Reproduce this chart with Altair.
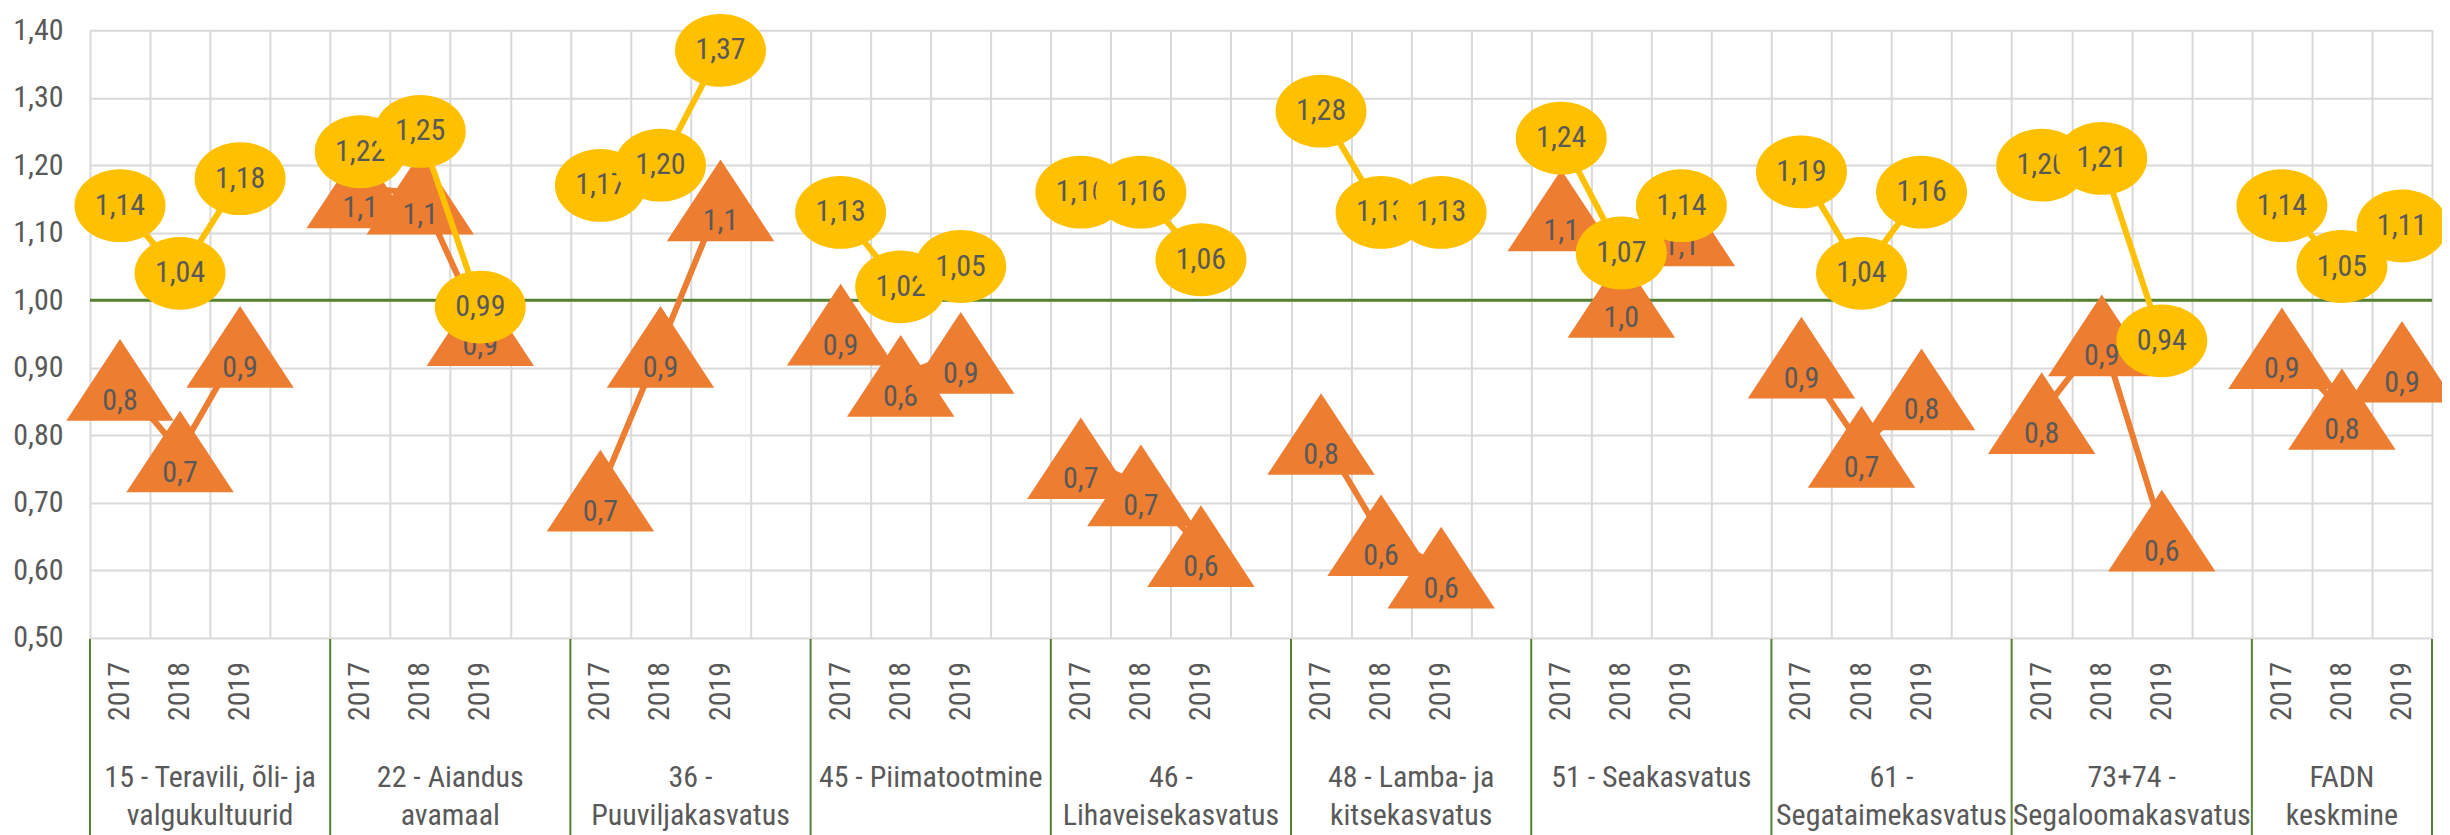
import altair as alt
import pandas as pd

# ---- data ----
groups = [
    "15 - Teravili, õli- ja\nvalgukultuurid",
    "22 - Aiandus\navamaal",
    "36 -\nPuuviljakasvatus",
    "45 - Piimatootmine",
    "46 -\nLihaveisekasvatus",
    "48 - Lamba- ja\nkitsekasvatus",
    "51 - Seakasvatus",
    "61 -\nSegataimekasvatus",
    "73+74 -\nSegaloomakasvatus",
    "FADN\nkeskmine",
]
years = ["2017", "2018", "2019"]

# orange triangles (series 1)
series_orange = [
    0.882, 0.776, 0.931,
    1.167, 1.158, 0.963,
    0.718, 0.931, 1.148,
    0.964, 0.888, 0.922,
    0.766, 0.726, 0.636,
    0.802, 0.652, 0.604,
    1.133, 1.005, 1.111,
    0.915, 0.783, 0.868,
    0.833, 0.948, 0.659,
    0.929, 0.839, 0.909,
]
# yellow ellipses (series 2)
series_yellow = [
    1.14, 1.04, 1.18,
    1.22, 1.25, 0.99,
    1.17, 1.20, 1.37,
    1.13, 1.02, 1.05,
    1.16, 1.16, 1.06,
    1.28, 1.13, 1.13,
    1.24, 1.07, 1.14,
    1.19, 1.04, 1.16,
    1.20, 1.21, 0.94,
    1.14, 1.05, 1.11,
]
reference_level = [1.0]
y_ticks = [0.5, 0.6, 0.7, 0.8, 0.9, 1.0, 1.1, 1.2, 1.3, 1.4]

# ---- tables ----
slots_per_group = len(years) + 1          # one empty slot after each group
n_slots = slots_per_group * (len(groups) - 1) + len(years)

rows = []
for g, name in enumerate(groups):
    for k, yr in enumerate(years):
        i = g * len(years) + k
        rows.append({
            "group": g,
            "year": yr,
            "pos": g * slots_per_group + k + 0.5,
            "orange": series_orange[i],
            "yellow": series_yellow[i],
        })
df = pd.DataFrame(rows)

grp_rows = []
for g, name in enumerate(groups):
    start = g * slots_per_group
    end = min(start + slots_per_group, n_slots)
    grp_rows.append({"name": name, "start": start, "end": end, "mid": (start + end) / 2})
gdf = pd.DataFrame(grp_rows)
sep_df = pd.DataFrame({"x": list(gdf["start"]) + [n_slots]})
ref_df = pd.DataFrame({"v": reference_level})

FONT = "Roboto Condensed, Liberation Sans Narrow, DejaVu Sans Condensed, Roboto"
TXT = "#595959"
ORANGE = "#ED7D31"
YELLOW = "#FFC000"
GREEN = "#548235"
W, H = 2343, 608

TRI = "M0,-0.76L1,0.76L-1,0.76Z"
ELL = "M-1,0A1,0.8,0,1,1,1,0A1,0.8,0,1,1,-1,0Z"

xscale = alt.Scale(domain=[0, n_slots], nice=False, zero=False)
yscale = alt.Scale(domain=[0.5, 1.4], nice=False, zero=False)

xaxis = alt.Axis(values=list(range(n_slots + 1)), grid=True, labels=False, ticks=False,
                 domain=False, title=None, gridColor="#D9D9D9", gridWidth=2)
yaxis = alt.Axis(values=y_ticks, grid=True, ticks=False, domain=False, title=None,
                 labelExpr="replace(format(datum.value, '.2f'), '.', ',')",
                 labelFont=FONT, labelFontSize=30, labelColor=TXT, labelPadding=27,
                 gridColor="#D9D9D9", gridWidth=2)

base = alt.Chart(df)

axes_layer = base.mark_point(opacity=0).encode(
    x=alt.X("pos:Q", scale=xscale, axis=xaxis),
    y=alt.Y("orange:Q", scale=yscale, axis=yaxis),
)

ref_rule = alt.Chart(ref_df).mark_rule(color=GREEN, strokeWidth=3).encode(
    y=alt.Y("v:Q", scale=yscale)
)

seps = alt.Chart(sep_df).mark_rule(color=GREEN, strokeWidth=2).encode(
    x=alt.X("x:Q", scale=xscale), y=alt.value(H + 1), y2=alt.value(H + 220)
)

year_text = base.mark_text(angle=270, align="right", baseline="middle", font=FONT,
                           fontSize=30, color=TXT).encode(
    x=alt.X("pos:Q", scale=xscale), y=alt.value(H + 24), text="year:N"
)

group_text = alt.Chart(gdf).mark_text(align="center", baseline="alphabetic", font=FONT,
                                       fontSize=30, color=TXT, lineBreak="\n",
                                       lineHeight=38).encode(
    x=alt.X("mid:Q", scale=xscale), y=alt.value(H + 149), text="name:N"
)

orange_line = base.mark_line(color=ORANGE, strokeWidth=6).encode(
    x=alt.X("pos:Q", scale=xscale), y=alt.Y("orange:Q", scale=yscale), detail="group:N"
)
yellow_line = base.mark_line(color=YELLOW, strokeWidth=6).encode(
    x=alt.X("pos:Q", scale=xscale), y=alt.Y("yellow:Q", scale=yscale), detail="group:N"
)

layers = [axes_layer, ref_rule, seps, year_text, group_text, orange_line]
for yr in years:
    sel = base.transform_filter(alt.datum.year == yr)
    layers.append(sel.mark_point(shape=TRI, size=11556, filled=True, fill=ORANGE,
                                 opacity=1, strokeWidth=0).encode(
        x=alt.X("pos:Q", scale=xscale), y=alt.Y("orange:Q", scale=yscale)))
    layers.append(sel.transform_calculate(
        lab="replace(format(floor(datum.orange * 10 + 1e-6) / 10, '.1f'), '.', ',')"
    ).mark_text(font=FONT, fontSize=30, color=TXT, dy=21).encode(
        x=alt.X("pos:Q", scale=xscale), y=alt.Y("orange:Q", scale=yscale), text="lab:N"))
layers.append(yellow_line)
for yr in years:
    sel = base.transform_filter(alt.datum.year == yr)
    layers.append(sel.mark_point(shape=ELL, size=8281, filled=True, fill=YELLOW,
                                 opacity=1, strokeWidth=0).encode(
        x=alt.X("pos:Q", scale=xscale), y=alt.Y("yellow:Q", scale=yscale)))
    layers.append(sel.transform_calculate(
        lab="replace(format(datum.yellow, '.2f'), '.', ',')"
    ).mark_text(font=FONT, fontSize=30, color=TXT).encode(
        x=alt.X("pos:Q", scale=xscale), y=alt.Y("yellow:Q", scale=yscale), text="lab:N"))

chart = alt.layer(*layers).properties(
    width=W, height=H, autosize="none",
    padding={"left": 82, "top": 22, "right": 10, "bottom": 198},
).configure_view(stroke=None).configure(font=FONT)

chart.save("out.html", embed_options={"renderer": "svg", "actions": False})
